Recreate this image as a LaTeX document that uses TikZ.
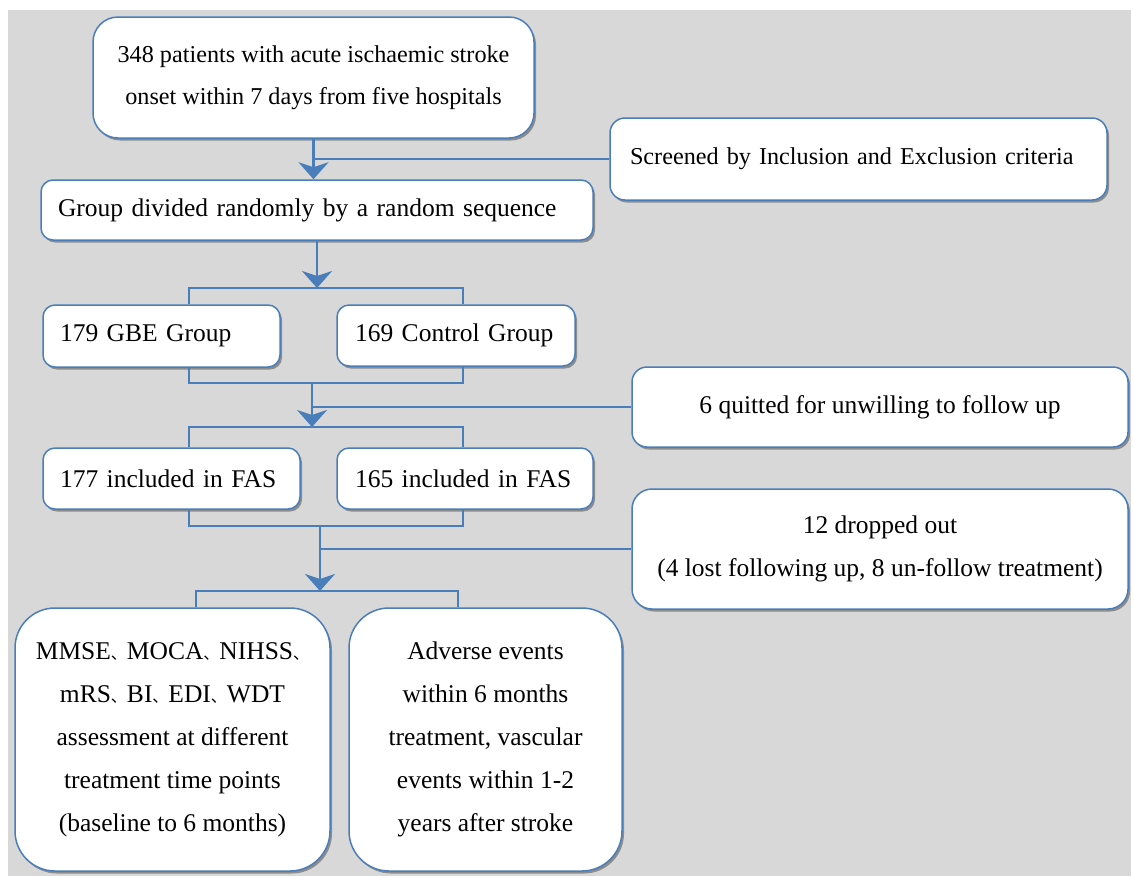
\documentclass[tikz,border=0pt]{standalone}
\usepackage{fontspec}
\setmainfont{Liberation Serif}
\newfontfamily\cjkfont{Noto Sans CJK SC}
\usetikzlibrary{arrows.meta,shadows}
\definecolor{bgray}{RGB}{216,216,216}
\definecolor{lblue}{RGB}{74,126,187}
\newcommand{\icomma}{{\cjkfont\fontsize{16}{16}\selectfont 、}}
\begin{document}
\begin{tikzpicture}[x=1pt,y=-1pt,
  box/.style={draw=lblue, line width=1.5pt, fill=white, inner ysep=0pt,
    drop shadow={shadow xshift=2pt, shadow yshift=-2.5pt, opacity=0.35, fill=black}},
  tnr/.style={font=\fontsize{24.2}{42}\selectfont},
  cmb/.style={font=\fontsize{25.5}{43}\selectfont},
  conn/.style={draw=lblue, line width=2.6pt, line join=miter},
  arr/.style={conn, -{Stealth[length=17pt,width=30pt,inset=5pt]}}
]
\useasboundingbox (0,0) rectangle (1134,876);
\fill[white] (0,0) rectangle (1134,876);
\fill[bgray] (8,10) rectangle (1131,876);

% boxes
\node[box, tnr, rounded corners=25pt, minimum width=441pt, minimum height=121pt, align=center]
  (A) at (313.5,77.5) {348 patients with acute ischaemic stroke\\onset within 7 days from five hospitals};
\node[box, tnr, rounded corners=15pt, minimum height=82pt, align=left, inner xsep=20pt, text width=457pt]
  (S) at (858.5,159) {\raisebox{4pt}{Screened by Inclusion and Exclusion criteria}};
\node[box, cmb, rounded corners=12pt, minimum height=60pt, align=left, inner xsep=17pt, text width=518pt]
  (B) at (317,210) {Group divided randomly by a random sequence};
\node[box, cmb, rounded corners=12pt, minimum height=62pt, align=left, inner xsep=17pt, text width=203pt]
  (G) at (161.5,336) {179 GBE Group};
\node[box, cmb, rounded corners=12pt, minimum height=61pt, align=left, inner xsep=18pt, text width=202pt]
  (C) at (456,335.5) {169 Control Group};
\node[box, cmb, rounded corners=15pt, minimum width=496pt, minimum height=80pt, align=center]
  (Q) at (880,407) {\raisebox{5pt}{6 quitted for unwilling to follow up}};
\node[box, cmb, rounded corners=12pt, minimum height=61pt, align=left, inner xsep=17pt, text width=223pt]
  (F1) at (171.5,478.5) {177 included in FAS};
\node[box, cmb, rounded corners=12pt, minimum height=61pt, align=left, inner xsep=18pt, text width=220pt]
  (F2) at (465,478.5) {165 included in FAS};
\node[box, cmb, rounded corners=20pt, minimum width=496pt, minimum height=120pt, align=center]
  (D) at (880,549) {12 dropped out\\(4 lost following up, 8 un-follow treatment)};
\node[box, cmb, rounded corners=40pt, minimum width=315pt, minimum height=263pt, align=center]
  (M) at (172.5,739.5) {MMSE\icomma MOCA\icomma NIHSS\icomma\\mRS\icomma BI\icomma EDI\icomma WDT\\assessment at different\\treatment time points\\(baseline to 6 months)};
\node[box, cmb, rounded corners=40pt, minimum width=273pt, minimum height=263pt, align=center]
  (E) at (485.5,739.5) {Adverse events\\within 6 months\\treatment, vascular\\events within 1-2\\years after stroke};

% junction coordinates
\coordinate (b1L) at (189,288);
\coordinate (b1R) at (463,288);
\coordinate (m1L) at (189,383);
\coordinate (m1R) at (463,383);
\coordinate (m1c) at (312,383);
\coordinate (b2L) at (189,427);
\coordinate (b2R) at (463,427);
\coordinate (m2L) at (189,526);
\coordinate (m2R) at (463,526);
\coordinate (m2c) at (320,526);
\coordinate (b3L) at (196,591);
\coordinate (b3R) at (458,591);

% connectors
\draw[arr] (A.south) -- (A.south |- B.north);
\draw[conn] (S.west) -- (S.west -| A.south);
\draw[arr] (B.south) -- (B.south |- b1L);
\draw[conn] (b1L |- G.north) -- (b1L) -- (b1R) -- (b1R |- C.north);
\draw[conn] (m1L |- G.south) -- (m1L) -- (m1R) -- (m1R |- C.south);
\draw[arr] (m1c) -- (m1c |- b2L);
\draw[conn] (Q.west) -- (Q.west -| m1c);
\draw[conn] (b2L |- F1.north) -- (b2L) -- (b2R) -- (b2R |- F2.north);
\draw[conn] (m2L |- F1.south) -- (m2L) -- (m2R) -- (m2R |- F2.south);
\draw[arr] (m2c) -- (m2c |- b3L);
\draw[conn] (D.west) -- (D.west -| m2c);
\draw[conn] (b3L |- M.north) -- (b3L) -- (b3R) -- (b3R |- E.north);
\end{tikzpicture}
\end{document}
